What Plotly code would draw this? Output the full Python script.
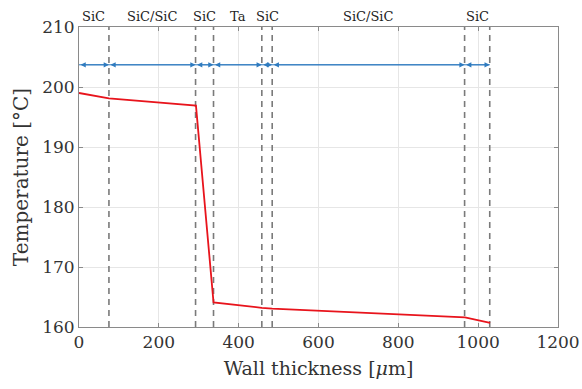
import plotly.graph_objects as go

# Data
boundaries = [75, 292, 337, 458, 484, 966, 1029]
layer_labels = ["SiC", "SiC/SiC", "SiC", "Ta", "SiC", "SiC/SiC", "SiC"]
x_temp = [0, 75, 293, 337, 458, 484, 967, 1030]
y_temp = [199.0, 198.1, 196.9, 164.1, 163.2, 163.05, 161.6, 160.7]
arrow_y = 203.7
x_ticks = [0, 200, 400, 600, 800, 1000, 1200]
y_ticks = [160, 170, 180, 190, 200, 210]

serif = "'DejaVu Serif', serif"

fig = go.Figure()

edges = [0] + boundaries

# dashed boundary lines
for b in boundaries:
    fig.add_trace(go.Scatter(x=[b, b], y=[160, 210], mode="lines",
                             line=dict(color="#7a7a7a", width=1.6, dash="6px,5px"),
                             hoverinfo="skip", showlegend=False))

# red temperature profile
fig.add_trace(go.Scatter(x=x_temp, y=y_temp, mode="lines",
                         line=dict(color="#e8141c", width=1.8),
                         showlegend=False))

# blue dimension line
fig.add_trace(go.Scatter(x=[edges[0], edges[-1]], y=[arrow_y, arrow_y], mode="lines",
                         line=dict(color="#2f7bbf", width=1),
                         hoverinfo="skip", showlegend=False))

for i in range(len(edges) - 1):
    a, b = edges[i], edges[i + 1]
    fig.add_annotation(x=b, y=arrow_y, ax=a, ay=arrow_y, xref="x", yref="y",
                       axref="x", ayref="y", text="", showarrow=True,
                       arrowhead=2, arrowside="end+start", arrowsize=1.05,
                       arrowwidth=1, arrowcolor="#2f7bbf", standoff=0, startstandoff=0)
    fig.add_annotation(x=(a + b) / 2, y=1.0, xref="x", yref="paper",
                       text=layer_labels[i], showarrow=False, yanchor="bottom",
                       yshift=1, font=dict(family=serif, size=13, color="#222"))

axis_common = dict(showline=True, linecolor="#8a8a8a", linewidth=1, mirror="ticks",
                   ticks="inside", ticklen=4, tickcolor="#8a8a8a", automargin=False,
                   showgrid=True, gridcolor="#e6e6e6", gridwidth=1, zeroline=False,
                   tickfont=dict(family=serif, size=17, color="#333"))

fig.update_xaxes(range=[0, 1200], tickvals=x_ticks, **axis_common,
                 title=dict(text="Wall thickness [<i>μ</i>m]", standoff=10,
                            font=dict(family=serif, size=19, color="#333")))
fig.update_yaxes(range=[160, 210], tickvals=y_ticks, **axis_common,
                 title=dict(text="Temperature [°C]", standoff=8,
                            font=dict(family=serif, size=20, color="#333")))

fig.update_layout(width=582, height=389, plot_bgcolor="white", paper_bgcolor="white",
                  margin=dict(l=79, r=24, t=27, b=62))

fig.write_html("out.html")
